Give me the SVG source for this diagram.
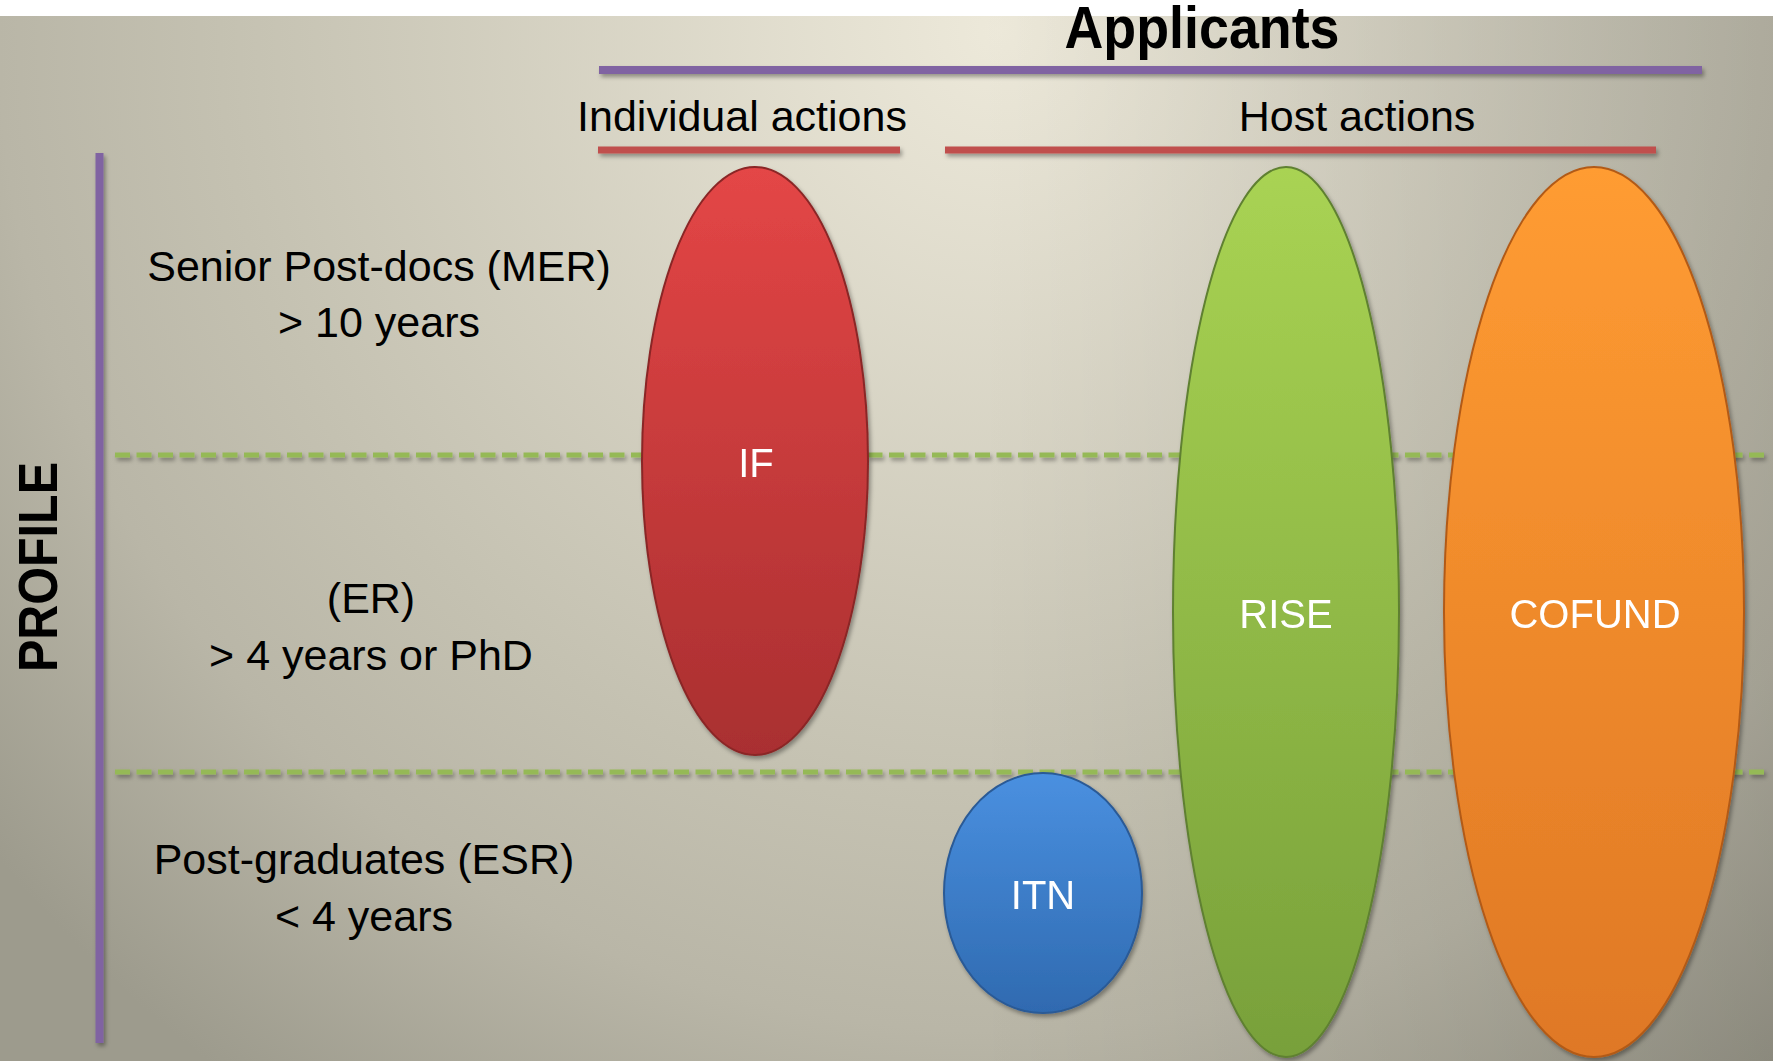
<svg xmlns="http://www.w3.org/2000/svg" width="1773" height="1061" viewBox="0 0 1773 1061">
<defs>
<radialGradient id="bg" gradientUnits="userSpaceOnUse" cx="1000" cy="30" r="1300">
<stop offset="0" stop-color="#ede9da"/>
<stop offset="0.6" stop-color="#c4c1b1"/>
<stop offset="0.77" stop-color="#b9b6a7"/>
<stop offset="1" stop-color="#9d9b8d"/>
</radialGradient>
<linearGradient id="bgShade" x1="0" y1="0" x2="1" y2="0">
<stop offset="0" stop-color="#000" stop-opacity="0"/>
<stop offset="0.55" stop-color="#000" stop-opacity="0"/>
<stop offset="1" stop-color="#000" stop-opacity="0.12"/>
</linearGradient>
<linearGradient id="gRed" x1="0" y1="0" x2="0" y2="1">
<stop offset="0" stop-color="#e44646"/>
<stop offset="1" stop-color="#a92f30"/>
</linearGradient>
<linearGradient id="gBlue" x1="0" y1="0" x2="0" y2="1">
<stop offset="0" stop-color="#4a90e0"/>
<stop offset="1" stop-color="#2f6ab0"/>
</linearGradient>
<linearGradient id="gGreen" x1="0" y1="0" x2="0" y2="1">
<stop offset="0" stop-color="#a9d353"/>
<stop offset="1" stop-color="#78a03a"/>
</linearGradient>
<linearGradient id="gOrange" x1="0" y1="0" x2="0" y2="1">
<stop offset="0" stop-color="#ff9c32"/>
<stop offset="1" stop-color="#df7825"/>
</linearGradient>
<filter id="sh" x="-20%" y="-20%" width="140%" height="140%">
<feDropShadow dx="2" dy="3" stdDeviation="2" flood-color="#000" flood-opacity="0.35"/>
</filter>
</defs>
<style>
.t{font-family:"Liberation Sans",Arial,sans-serif;font-size:43px;fill:#000;text-anchor:middle}
.b{font-weight:bold}
.title{font-size:60px}
.prof{font-size:56px}
.lbl{font-family:"Liberation Sans",Arial,sans-serif;font-size:40px;fill:#fff;text-anchor:middle;dominant-baseline:central}
.dash{stroke:#95b956;stroke-width:5;stroke-dasharray:15 6.5;fill:none}
.ell{stroke-width:2}
</style>
<rect x="0" y="0" width="1773" height="1061" fill="#ffffff"/>
<rect x="0" y="16" width="1773" height="1045" fill="url(#bg)"/>
<rect x="0" y="16" width="1773" height="1045" fill="url(#bgShade)"/>

<g id="connectors" filter="url(#sh)">
<line x1="599" y1="70" x2="1702" y2="70" stroke="#8064a2" stroke-width="8"/>
<line x1="598" y1="150" x2="900" y2="150" stroke="#c0504d" stroke-width="7"/>
<line x1="945" y1="150" x2="1656" y2="150" stroke="#c0504d" stroke-width="7"/>
<line x1="99.5" y1="153" x2="99.5" y2="1043" stroke="#8064a2" stroke-width="8"/>
<line class="dash" x1="115" y1="455" x2="1764" y2="455"/>
<line class="dash" x1="115" y1="772" x2="1764" y2="772"/>
</g>

<g id="title">
<text class="t b title" x="1202" y="48" textLength="275" lengthAdjust="spacingAndGlyphs">Applicants</text>
</g>
<g id="individual-actions"><text class="t" x="742" y="131">Individual actions</text></g>
<g id="host-actions"><text class="t" x="1357" y="131">Host actions</text></g>
<g id="profile">
<text class="t b prof" transform="translate(57 567) rotate(-90)" textLength="210" lengthAdjust="spacingAndGlyphs">PROFILE</text>
</g>
<g id="mer">
<text class="t" x="379" y="281">Senior Post-docs (MER)</text>
<text class="t" x="379" y="337">&gt; 10 years</text>
</g>
<g id="er">
<text class="t" x="371" y="613">(ER)</text>
<text class="t" x="371" y="670">&gt; 4 years or PhD</text>
</g>
<g id="esr">
<text class="t" x="364" y="874">Post-graduates (ESR)</text>
<text class="t" x="364" y="931">&lt; 4 years</text>
</g>

<g id="IF" filter="url(#sh)">
<ellipse class="ell" cx="755" cy="461" rx="113" ry="294" fill="url(#gRed)" stroke="#8a2626"/>
<text class="lbl" x="756" y="463">IF</text>
</g>
<g id="ITN" filter="url(#sh)">
<ellipse class="ell" cx="1043" cy="893" rx="99" ry="120" fill="url(#gBlue)" stroke="#2a5a96"/>
<text class="lbl" x="1043" y="895">ITN</text>
</g>
<g id="RISE" filter="url(#sh)">
<ellipse class="ell" cx="1286" cy="612" rx="113" ry="445" fill="url(#gGreen)" stroke="#5f8030"/>
<text class="lbl" x="1286" y="614">RISE</text>
</g>
<g id="COFUND" filter="url(#sh)">
<ellipse class="ell" cx="1594" cy="612" rx="150" ry="445" fill="url(#gOrange)" stroke="#b25a18"/>
<text class="lbl" x="1595" y="614">COFUND</text>
</g>
</svg>
